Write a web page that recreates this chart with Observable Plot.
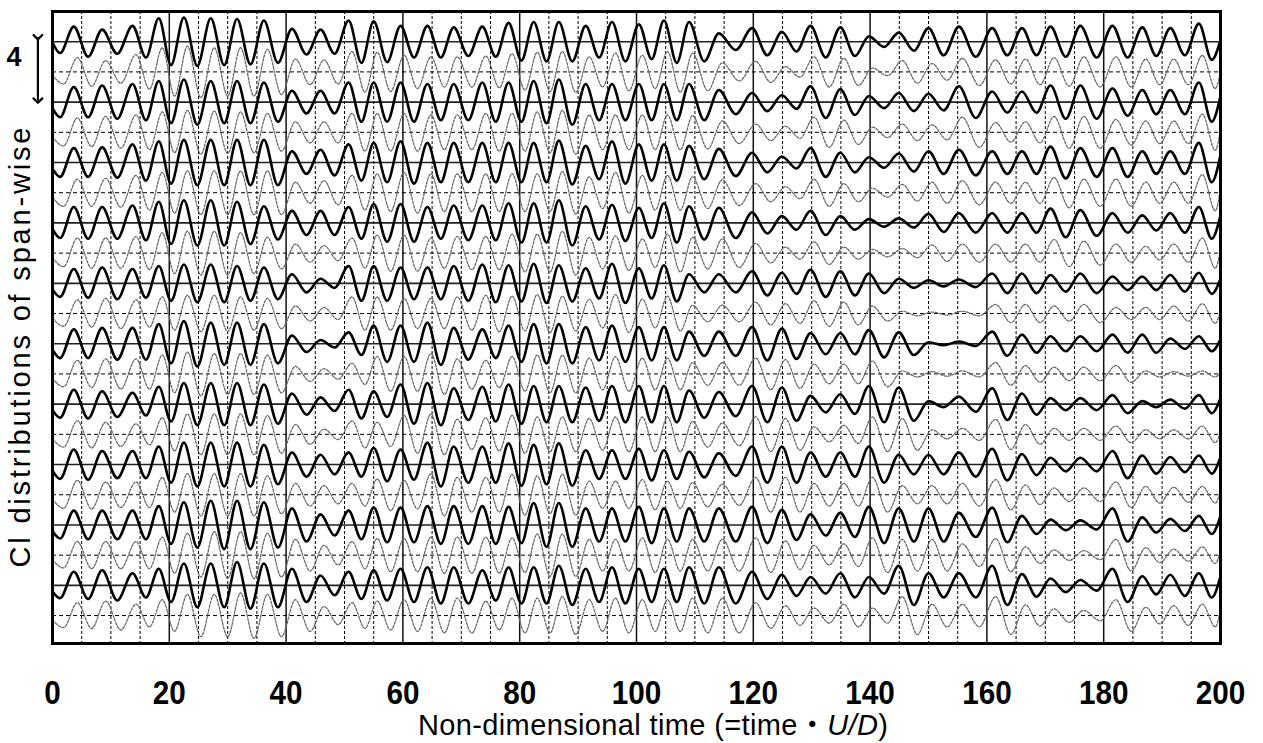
<!DOCTYPE html>
<html>
<head>
<meta charset="utf-8">
<script src="https://cdn.jsdelivr.net/npm/d3@7"></script>
<script src="https://cdn.jsdelivr.net/npm/@observablehq/plot@0.6"></script>
<style>
  html, body { margin: 0; padding: 0; background: #fff; }
  #chart svg { display: block; }
</style>
</head>
<body>
<div id="chart"></div>
<script>
// ---------- axis values ----------
const xTickValues = [0, 20, 40, 60, 80, 100, 120, 140, 160, 180, 200];
const majorGrid = [20, 40, 60, 80, 100, 120, 140, 160, 180];
const minorGrid = [5, 10, 15, 25, 30, 35, 45, 50, 55, 65, 70, 75, 85, 90, 95, 105, 110, 115,
  125, 130, 135, 145, 150, 155, 165, 170, 175, 185, 190, 195];

// trace baselines (Cl offset, 4 between neighbouring solid traces)
const solidBaselines = [38, 34, 30, 26, 22, 18, 14, 10, 6, 2];
const dashedBaselines = [36, 32, 28, 24, 20, 16, 12, 8, 4, 0];

// times of the extremes
const leadTroughTime = 1.3;
const peakTimes = [3.65, 8.5, 13.7, 18.2, 22.5, 27.1, 31.6, 36.2, 41.0, 45.9, 50.7, 55.0, 59.6, 64.2,
  68.7, 73.6, 78.1, 82.4, 86.7, 91.3, 95.8, 100.4, 104.7, 109.0, 114.1, 119.8, 124.9, 129.8, 134.9,
  139.8, 144.9, 150.0, 155.2, 160.9, 166.0, 170.9, 176.0, 181.5, 186.6, 191.4, 196.3];
const troughTimes = [6.1, 11.1, 16.0, 20.3, 24.8, 29.4, 33.9, 38.6, 43.5, 48.3, 52.9, 57.3, 61.9, 66.5,
  71.2, 75.9, 80.3, 84.6, 89.0, 93.6, 98.1, 102.6, 106.9, 111.6, 117.0, 122.4, 127.4, 132.4, 137.4,
  142.4, 147.5, 152.6, 158.1, 163.5, 168.5, 173.5, 178.8, 184.1, 189.0, 193.9, 198.5];
const dashedLag = 0.6;

// Cl amplitude per cycle, solid traces (top to bottom)
const clSolid1 = [1.0, 0.8, 1.05, 1.55, 1.6, 1.55, 1.5, 1.4, 0.85, 0.8, 1.4, 1.35, 1.05, 1.05, 0.95, 1.0,
  1.25, 1.3, 1.3, 1.05, 1.3, 1.15, 1.4, 1.3, 0.55, 0.9, 0.65, 1.05, 0.95, 0.35, 0.6, 0.9, 1.0,
  0.9, 0.9, 1.0, 1.05, 1.05, 0.95, 0.9, 1.2];
const clSolid2 = [1.0, 1.1, 1.2, 1.4, 1.5, 1.4, 1.4, 1.3, 0.75, 0.75, 1.3, 1.3, 1.3, 1.2, 1.2, 1.3,
  1.3, 1.4, 1.5, 1.2, 1.2, 1.2, 1.2, 1.2, 0.8, 0.6, 0.45, 1.05, 0.85, 0.4, 0.6, 0.55, 1.05,
  0.7, 0.7, 1.1, 1.1, 0.9, 0.8, 0.8, 1.3];
const clSolid3 = [0.95, 1.0, 1.2, 1.4, 1.5, 1.5, 1.5, 1.5, 0.75, 0.85, 1.2, 1.3, 1.4, 1.3, 1.3, 1.3,
  1.3, 1.3, 1.45, 1.1, 1.4, 1.2, 1.2, 1.1, 0.9, 0.65, 0.4, 0.95, 0.65, 0.35, 0.6, 0.75, 0.85,
  0.75, 0.75, 1.05, 0.95, 0.95, 0.75, 0.75, 1.3];
const clSolid4 = [1.05, 1.05, 1.15, 1.4, 1.5, 1.5, 1.4, 1.1, 0.8, 0.8, 1.05, 1.25, 1.25, 1.05, 1.15, 1.15,
  1.3, 1.3, 1.5, 1.1, 1.2, 1.0, 1.3, 1.1, 1.0, 0.7, 0.45, 0.8, 0.45, 0.25, 0.3, 0.6, 0.65,
  0.65, 0.65, 0.95, 0.85, 0.65, 0.5, 0.65, 1.05];
const clSolid5 = [0.95, 1.05, 0.95, 1.15, 1.25, 1.25, 1.15, 1.05, 0.6, 0.3, 1.15, 1.15, 1.05, 1.05, 1.15, 1.25,
  1.2, 1.3, 1.2, 1.0, 1.3, 1.0, 1.2, 0.6, 0.6, 0.8, 0.7, 0.9, 0.8, 0.65, 0.3, 0.2, 0.25,
  0.65, 0.65, 0.55, 0.65, 0.45, 0.45, 0.55, 0.7];
const clSolid6 = [0.95, 1.05, 1.05, 1.3, 1.5, 1.4, 1.4, 1.3, 0.55, 0.25, 0.75, 1.2, 1.2, 1.4, 1.05, 0.95,
  1.2, 1.3, 1.3, 1.1, 1.2, 1.1, 1.1, 0.8, 0.8, 1.1, 1.0, 0.7, 0.7, 0.9, 0.75, 0.1, 0.15,
  0.8, 0.6, 0.5, 0.5, 0.6, 0.6, 0.35, 0.5];
const clSolid7 = [0.95, 0.85, 0.75, 1.15, 1.4, 1.4, 1.4, 1.3, 0.7, 0.45, 0.95, 0.85, 1.3, 1.4, 1.05, 1.15,
  1.3, 1.2, 1.2, 1.1, 1.2, 1.2, 1.2, 0.9, 0.8, 1.2, 1.1, 0.55, 0.65, 1.2, 1.1, 0.2, 0.5,
  1.05, 0.7, 0.4, 0.4, 0.6, 0.2, 0.3, 0.6];
const clSolid8 = [1.0, 0.9, 0.9, 1.2, 1.45, 1.45, 1.45, 1.3, 0.8, 0.65, 0.8, 1.1, 1.0, 1.45, 1.2, 1.2,
  1.4, 1.3, 1.4, 0.95, 0.95, 1.05, 0.95, 0.85, 0.75, 1.2, 1.2, 0.8, 0.8, 1.2, 0.65, 0.65, 0.8,
  1.05, 0.7, 0.45, 0.45, 0.9, 0.6, 0.5, 0.6];
const clSolid9 = [0.95, 0.95, 0.95, 1.25, 1.5, 1.6, 1.6, 1.5, 1.1, 0.7, 0.95, 1.15, 1.15, 1.25, 1.25, 1.25,
  1.2, 1.45, 1.45, 1.1, 1.1, 1.2, 1.1, 1.1, 1.1, 1.2, 1.0, 0.7, 0.8, 1.2, 1.1, 1.1, 0.8,
  1.15, 0.6, 0.35, 0.3, 1.1, 0.5, 0.4, 0.6];
const clSolid10 = [0.9, 1.0, 0.8, 1.1, 1.45, 1.45, 1.55, 1.45, 1.1, 0.65, 0.9, 1.0, 1.1, 1.2, 1.2, 1.0,
  1.2, 1.2, 1.3, 1.1, 1.2, 1.1, 1.1, 1.2, 1.2, 0.9, 0.7, 0.55, 0.8, 0.55, 1.3, 0.8, 0.8,
  1.3, 0.75, 0.45, 0.35, 1.1, 0.6, 0.7, 0.8];

// Cl amplitude per cycle, dashed traces (top to bottom)
const clDashed1 = [0.95, 0.75, 1.15, 1.6, 1.7, 1.6, 1.6, 1.5, 0.85, 0.8, 1.35, 1.3, 1.1, 1.0, 1.0, 1.05,
  1.2, 1.3, 1.35, 1.0, 1.25, 1.1, 1.35, 1.25, 0.6, 0.7, 0.35, 1.0, 0.9, 0.25, 0.75, 0.55, 0.9,
  0.8, 0.85, 0.95, 1.0, 1.0, 0.85, 0.85, 1.1];
const clDashed2 = [0.95, 1.05, 1.15, 1.35, 1.45, 1.4, 1.35, 1.25, 0.7, 0.7, 1.25, 1.25, 1.25, 1.15, 1.15, 1.25,
  1.25, 1.35, 1.45, 1.15, 1.15, 1.15, 1.15, 1.1, 0.75, 0.55, 0.4, 1.0, 0.8, 0.35, 0.55, 0.5, 1.0,
  0.65, 0.7, 1.05, 1.05, 0.85, 0.75, 0.75, 1.2];
const clDashed3 = [0.9, 0.95, 1.15, 1.35, 1.45, 1.45, 1.45, 1.45, 0.7, 0.8, 1.15, 1.25, 1.35, 1.25, 1.25, 1.25,
  1.25, 1.25, 1.4, 1.05, 1.35, 1.15, 1.15, 1.05, 0.85, 0.6, 0.4, 0.9, 0.6, 0.3, 0.55, 0.7, 0.8,
  0.7, 0.7, 1.0, 0.9, 0.9, 0.7, 0.7, 1.2];
const clDashed4 = [1.0, 1.0, 1.1, 1.35, 1.45, 1.45, 1.35, 1.05, 0.6, 0.5, 1.0, 1.2, 1.2, 1.0, 1.1, 1.1,
  1.25, 1.25, 1.45, 1.05, 1.15, 0.95, 1.25, 1.05, 0.95, 0.65, 0.4, 0.75, 0.4, 0.25, 0.3, 0.55, 0.6,
  0.6, 0.6, 0.9, 0.8, 0.6, 0.45, 0.6, 1.0];
const clDashed5 = [0.9, 1.0, 0.9, 1.1, 1.2, 1.2, 1.1, 1.0, 0.5, 0.4, 1.1, 1.1, 1.0, 1.0, 1.1, 1.2,
  1.15, 1.25, 1.15, 0.95, 1.25, 0.95, 1.15, 0.55, 0.55, 0.75, 0.65, 0.85, 0.75, 0.5, 0.15, 0.1, 0.15,
  0.6, 0.6, 0.5, 0.6, 0.4, 0.4, 0.5, 0.65];
const clDashed6 = [0.9, 1.0, 1.0, 1.25, 1.45, 1.35, 1.35, 1.25, 0.5, 0.35, 0.7, 1.15, 1.15, 1.35, 1.0, 0.9,
  1.15, 1.25, 1.25, 1.05, 1.15, 1.05, 1.05, 0.75, 0.75, 1.05, 0.95, 0.65, 0.65, 0.85, 0.2, 0.15, 0.2,
  0.75, 0.55, 0.45, 0.45, 0.55, 0.2, 0.15, 0.2];
const clDashed7 = [0.9, 0.8, 0.7, 1.1, 1.35, 1.35, 1.35, 1.25, 0.65, 0.35, 0.9, 0.8, 1.25, 1.35, 1.0, 1.1,
  1.25, 1.15, 1.15, 1.05, 1.15, 1.15, 1.15, 0.85, 0.75, 1.15, 1.05, 0.5, 0.6, 1.15, 1.05, 0.3, 0.4,
  1.0, 0.65, 0.4, 0.4, 0.55, 0.3, 0.3, 0.55];
const clDashed8 = [0.95, 0.85, 0.85, 1.15, 1.4, 1.4, 1.4, 1.25, 0.75, 0.6, 0.75, 1.05, 0.95, 1.4, 1.15, 1.15,
  1.35, 1.25, 1.35, 0.9, 0.9, 1.0, 0.9, 0.8, 0.7, 1.15, 1.15, 0.75, 0.75, 1.15, 0.6, 0.6, 0.75,
  1.0, 0.65, 0.45, 0.45, 0.85, 0.55, 0.5, 0.55];
const clDashed9 = [0.9, 0.9, 0.9, 1.2, 1.45, 1.55, 1.55, 1.45, 1.05, 0.65, 0.9, 1.1, 1.1, 1.2, 1.2, 1.2,
  1.15, 1.4, 1.4, 1.05, 1.05, 1.15, 1.05, 1.05, 1.05, 1.15, 0.95, 0.65, 0.75, 1.15, 1.05, 1.05, 0.75,
  1.1, 0.55, 0.35, 0.3, 1.05, 0.5, 0.4, 0.55];
const clDashed10 = [0.85, 0.95, 0.75, 1.05, 1.4, 1.4, 1.5, 1.4, 1.05, 0.6, 0.85, 0.95, 1.05, 1.15, 1.15, 0.95,
  1.15, 1.15, 1.25, 1.05, 1.15, 1.05, 1.05, 1.15, 1.15, 0.85, 0.65, 0.5, 0.75, 0.5, 1.25, 0.75, 0.75,
  1.25, 0.7, 0.45, 0.35, 1.05, 0.55, 0.65, 0.75];

// values at the start (t = 0), first trough and end (t = 200)
const solidStart = [-0.05, -0.4, -0.4, -0.4, -0.4, -0.4, -0.4, -0.4, -0.4, -0.4];
const solidLead = [-0.75, -1.0, -0.95, -1.0, -0.9, -0.95, -0.9, -0.95, -0.9, -0.85];
const solidEnd = [0.1, 0.4, 0.5, 0.5, 0.3, 0.3, 0.4, 0.5, 0.6, 0.6];
const dashedStart = [-0.2, -0.3, -0.3, -0.3, -0.3, -0.3, -0.3, -0.3, -0.3, -0.3];
const dashedLead = [-0.8, -0.9, -0.9, -0.9, -0.85, -0.85, -0.85, -0.9, -0.85, -0.8];
const dashedEnd = [0.0, 0.2, 0.3, 0.3, 0.2, 0.1, 0.2, 0.3, 0.3, 0.4];

// ---------- build point tables ----------
const solidAmps = [clSolid1, clSolid2, clSolid3, clSolid4, clSolid5, clSolid6, clSolid7, clSolid8, clSolid9, clSolid10];
const dashedAmps = [clDashed1, clDashed2, clDashed3, clDashed4, clDashed5, clDashed6, clDashed7, clDashed8, clDashed9, clDashed10];

function buildTrace(id, base, amps, start, lead, end, lag) {
  const pts = [{id, t: 0, v: base + start}, {id, t: leadTroughTime + lag, v: base + lead}];
  amps.forEach((a, i) => {
    pts.push({id, t: peakTimes[i] + lag, v: base + a});
    pts.push({id, t: troughTimes[i] + lag, v: base - a});
  });
  pts.push({id, t: 200, v: base + end});
  return pts;
}
const solidPts = solidAmps.flatMap((a, i) => buildTrace("s" + i, solidBaselines[i], a, solidStart[i], solidLead[i], solidEnd[i], 0));
const dashedPts = dashedAmps.flatMap((a, i) => buildTrace("d" + i, dashedBaselines[i], a, dashedStart[i], dashedLead[i], dashedEnd[i], dashedLag));

const arrowSpan = [{x: -2.5, y1: 38.3, y2: 34.1}];
const scaleLabel = [{x: -6.6, y: 36.95, text: "4"}];
const yLabel = "Cl distributions of span-wise";
const xLabelParts = ["Non-dimensional time (=time・", "U/D", ")"];

const sans = "'Liberation Sans', Arial, 'Noto Sans CJK JP', sans-serif";

const chart = Plot.plot({
  width: 1263,
  height: 743,
  marginLeft: 52,
  marginRight: 43,
  marginTop: 11,
  marginBottom: 100,
  x: {domain: [0, 200], axis: null},
  y: {domain: [-1.85, 40], axis: null},
  style: {background: "#fff", overflow: "visible"},
  marks: [
    Plot.ruleX(minorGrid, {stroke: "#000", strokeWidth: 1, strokeDasharray: "3,2"}),
    Plot.ruleX(majorGrid, {stroke: "#111", strokeWidth: 1.5}),
    Plot.ruleY(dashedBaselines, {stroke: "#000", strokeWidth: 1, strokeDasharray: "4,3"}),
    Plot.ruleY(solidBaselines, {stroke: "#222", strokeWidth: 1.6}),
    Plot.line(dashedPts, {x: "t", y: "v", z: "id", curve: "monotone-x", stroke: "#666",
      strokeWidth: 1.25, strokeDasharray: "2.5,1.5", clip: true}),
    Plot.line(solidPts, {x: "t", y: "v", z: "id", curve: "monotone-x", stroke: "#000",
      strokeWidth: 2.6, clip: true}),
    Plot.frame({stroke: "#000", strokeWidth: 3}),
    Plot.axisX(xTickValues, {anchor: "bottom", tickSize: 0, tickPadding: 37, label: null,
      fontSize: 33, fontWeight: "bold", fontFamily: sans, fill: "#000", className: "xticks"}),
    Plot.link(arrowSpan, {x1: "x", x2: "x", y1: "y1", y2: "y2", markerStart: "arrow", markerEnd: "arrow",
      stroke: "#000", strokeWidth: 2.2}),
    Plot.text(scaleLabel, {x: "x", y: "y", text: "text", fontSize: 27, fontWeight: "bold", fontFamily: sans, fill: "#000"}),
    Plot.text([yLabel], {x: -5.5, y: 17.75, text: d => d, rotate: -90, fontSize: 29, fontFamily: sans,
      fill: "#000", className: "ylab"})
  ]
});

const svg = d3.select(chart);
// condensed tick digits and stretched y label, as in the original typesetting
svg.selectAll(".xticks text").each(function () {
  const s = d3.select(this);
  s.attr("textLength", s.text().length * 16.5).attr("lengthAdjust", "spacingAndGlyphs");
});
svg.selectAll(".ylab text").attr("textLength", 440).attr("lengthAdjust", "spacing");

// x-axis title with the italic U/D
const xs = chart.scale("x");
const title = svg.append("text")
  .attr("x", xs.apply(102.9)).attr("y", 735)
  .attr("text-anchor", "middle")
  .attr("textLength", 470).attr("lengthAdjust", "spacing")
  .attr("font-family", sans).attr("font-size", 29).attr("fill", "#000");
title.append("tspan").text(xLabelParts[0]);
title.append("tspan").attr("font-style", "italic").text(xLabelParts[1]);
title.append("tspan").text(xLabelParts[2]);

document.getElementById("chart").append(chart);
</script>
</body>
</html>
